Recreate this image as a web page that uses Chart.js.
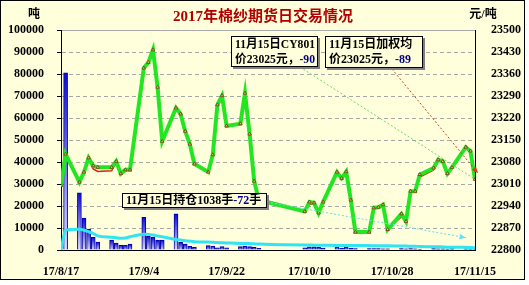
<!DOCTYPE html>
<html>
<head>
<meta charset="utf-8">
<script src="https://cdn.jsdelivr.net/npm/chart.js@4.4.1/dist/chart.umd.min.js"></script>
<style>
  html, body { margin: 0; padding: 0; background: #fff; }
  canvas { display: block; }
</style>
</head>
<body>
<canvas id="chart" width="529" height="285"></canvas>
<script>
// 交易日期 (17/8/17 为挂牌基准日)
const dates = [
  '2017-08-17','2017-08-18','2017-08-21','2017-08-22','2017-08-23','2017-08-24','2017-08-25',
  '2017-08-28','2017-08-29','2017-08-30','2017-08-31','2017-09-01',
  '2017-09-04','2017-09-05','2017-09-06','2017-09-07','2017-09-08',
  '2017-09-11','2017-09-12','2017-09-13','2017-09-14','2017-09-15',
  '2017-09-18','2017-09-19','2017-09-20','2017-09-21','2017-09-22',
  '2017-09-25','2017-09-26','2017-09-27','2017-09-28','2017-09-29',
  '2017-10-09','2017-10-10','2017-10-11','2017-10-12','2017-10-13',
  '2017-10-16','2017-10-17','2017-10-18','2017-10-19','2017-10-20',
  '2017-10-23','2017-10-24','2017-10-25','2017-10-26','2017-10-27',
  '2017-10-30','2017-10-31','2017-11-01','2017-11-02','2017-11-03',
  '2017-11-06','2017-11-07','2017-11-08','2017-11-09','2017-11-10',
  '2017-11-13','2017-11-14','2017-11-15'
];
// 成交量 (吨)
const volume = [
  0, 80500, 26000, 14500, 9500, 5800, 3600,
  4500, 3200, 2100, 2100, 2700,
  14900, 6200, 5800, 4500, 4500,
  16400, 3500, 2700, 1700, 1200,
  2000, 1800, 1000, 1500, 1000,
  1500, 1800, 1500, 1200, 800,
  1000, 1400, 1400, 1200, 900,
  1400, 800, 1300, 800, 700,
  600, 700, 600, 500, 500,
  600, 500, 600, 500, 400,
  600, 500, 500, 400, 600,
  500, 500, 600
];
// 持仓量 (手)
const openInt = [
  0, 9100, 9400, 9000, 8300, 7500, 6400,
  5800, 5600, 5300, 5500, 6000,
  7200, 7100, 6800, 6400, 6000,
  4800, 4500, 4200, 4000, 3800,
  3600, 3500, 3400, 3300, 3200,
  3000, 3000, 2900, 2800, 2700,
  2300, 2300, 2200, 2200, 2200,
  2100, 2100, 2100, 2000, 2000,
  2000, 1900, 1900, 1900, 1900,
  1800, 1800, 1700, 1700, 1600,
  1500, 1500, 1400, 1300, 1300,
  1200, 1110, 1038
];
// CY801 收盘价 (元/吨)
const cy801 = [
  23005, 23105, 23016, 23048, 23093, 23068, 23063,
  23063, 23082, 23043, 23055, 23055,
  23379, 23397, 23437, 23318, 23146,
  23252, 23233, 23178, 23137, 23074,
  23048, 23103, 23262, 23291, 23195,
  23202, 23299, 23169, 23019, 22959,
  22923, 22953, 22950, 22918, 22953,
  23048, 23028, 23049, 22959, 22857,
  22857, 22934, 22936, 22944, 22865,
  22915, 22891, 22987, 22987, 23040,
  23061, 23087, 23082, 23043, 23063,
  23127, 23115, 23025
];
// 加权均价 (元/吨)
const wavg = [
  23005, 23105, 23016, 23045, 23090, 23058, 23050,
  23052, 23078, 23040, 23052, 23055,
  23375, 23393, 23430, 23320, 23150,
  23248, 23235, 23180, 23140, 23078,
  23050, 23100, 23255, 23285, 23198,
  23200, 23295, 23172, 23022, 22962,
  22925, 22945, 22948, 22920, 22950,
  23045, 23030, 23048, 22962, 22860,
  22858, 22930, 22938, 22942, 22868,
  22905, 22895, 22985, 22988, 23032,
  23055, 23085, 23083, 23045, 23062,
  23125, 23114, 23025
];

const startDay = Date.parse(dates[0]);
const dayOf = d => Math.round((Date.parse(d) - startDay) / 86400000);
const days = dates.map(dayOf);
const pts = arr => arr.map((v, i) => ({ x: days[i], y: v }));
const n = dates.length;

const FONT = '"Liberation Serif", "Noto Sans CJK SC", serif';
Chart.defaults.font.family = FONT;
Chart.defaults.font.weight = 'bold';
Chart.defaults.font.size = 12;
Chart.defaults.color = '#000';

function fmtDay(v) {
  const d = new Date(startDay + v * 86400000);
  return '17/' + (d.getUTCMonth() + 1) + '/' + d.getUTCDate();
}

function barFill(c) {
  const chart = c.chart;
  if (!chart.chartArea || c.type !== 'data') return '#3030E0';
  const ys = chart.scales.y;
  const top = ys.getPixelForValue(c.parsed.y);
  const bottom = ys.getPixelForValue(0);
  const g = chart.ctx.createLinearGradient(0, top, 0, bottom + 1);
  g.addColorStop(0, '#0A0AD8');
  g.addColorStop(1, '#E0E0FF');
  return g;
}

function drawLeader(c, x1, y1, x2, y2, color, arrow) {
  c.save();
  c.strokeStyle = color;
  c.fillStyle = color;
  c.lineWidth = 1;
  c.setLineDash([2, 2]);
  c.beginPath();
  c.moveTo(x1, y1);
  c.lineTo(x2, y2);
  c.stroke();
  if (arrow) {
    const a = Math.atan2(y2 - y1, x2 - x1);
    c.setLineDash([]);
    c.beginPath();
    c.moveTo(x2, y2);
    c.lineTo(x2 - 7 * Math.cos(a - 0.4), y2 - 7 * Math.sin(a - 0.4));
    c.lineTo(x2 - 7 * Math.cos(a + 0.4), y2 - 7 * Math.sin(a + 0.4));
    c.closePath();
    c.fill();
  }
  c.restore();
}

function drawBox(c, x, y, w, h, lines) {
  c.save();
  c.fillStyle = '#808080';
  c.fillRect(x + 2, y + 2, w, h);
  c.fillStyle = '#FFFFDC';
  c.fillRect(x, y, w, h);
  c.strokeStyle = '#000';
  c.lineWidth = 1;
  c.strokeRect(x + 0.5, y + 0.5, w - 1, h - 1);
  c.font = 'bold 12px ' + FONT;
  c.textBaseline = 'middle';
  c.textAlign = 'left';
  lines.forEach((segs, i) => {
    const ty = y + (lines.length > 1 ? 8.5 + i * 15 : h / 2 + 0.5);
    const total = segs.reduce((s, [t]) => s + c.measureText(t).width, 0);
    const avail = w - 7;
    const k = total > avail ? avail / total : 1;
    c.save();
    c.translate(x + 4, ty);
    c.scale(k, 1);
    let tx = 0;
    segs.forEach(([t, col]) => {
      c.fillStyle = col;
      c.fillText(t, tx, 0);
      tx += c.measureText(t).width;
    });
    c.restore();
  });
  c.restore();
}

const last = dates[n - 1];
const md = (new Date(last).getUTCMonth() + 1) + '月' + new Date(last).getUTCDate() + '日';
const dCy = cy801[n - 1] - cy801[n - 2];
const dW = wavg[n - 1] - wavg[n - 2];
const dOi = openInt[n - 1] - openInt[n - 2];

const deco = {
  id: 'deco',
  beforeDraw(chart) {
    const c = chart.ctx;
    c.save();
    c.fillStyle = '#fff';
    c.fillRect(0, 0, chart.width, chart.height);
    c.fillStyle = '#FFFFDC';
    c.fillRect(0, 0, 525, 280);
    c.strokeStyle = '#000';
    c.lineWidth = 1;
    c.strokeRect(0.5, 0.5, 524, 279);
    c.fillStyle = '#B00000';
    c.font = 'bold 15px ' + FONT;
    c.textAlign = 'center';
    c.textBaseline = 'middle';
    c.fillText('2017年棉纱期货日交易情况', 263, 17);
    c.fillStyle = '#000';
    c.font = 'bold 12px ' + FONT;
    c.fillText('吨', 34, 15);
    c.fillText('元/吨', 483, 15);
    c.restore();
  },
  afterDatasetsDraw(chart) {
    const c = chart.ctx;
    const { x, y, y1 } = chart.scales;
    const lx = x.getPixelForValue(days[n - 1]);
    drawLeader(c, 300, 67, lx, y1.getPixelForValue(cy801[n - 1]), '#66DD66', false);
    drawLeader(c, 392, 69, lx + 3, y1.getPixelForValue(wavg[n - 1]) - 6, '#D04020', true);
    drawLeader(c, 267, 202, lx - 9, y.getPixelForValue(openInt[n - 1]) - 10, '#66E0F0', true);
    drawBox(c, 231, 36, 87, 31, [
      [[md + 'CY801', '#000']],
      [['价' + cy801[n - 1] + '元，', '#000'], [String(dCy), '#000080']]
    ]);
    drawBox(c, 325, 36, 98, 32, [
      [[md + '加权均', '#000']],
      [['价' + wavg[n - 1] + '元，', '#000'], [String(dW), '#000080']]
    ]);
    drawBox(c, 122, 193, 145, 15, [
      [[md + '持仓' + openInt[n - 1] + '手', '#000'], [String(dOi), '#000080'], ['手', '#000']]
    ]);
  }
};

new Chart(document.getElementById('chart'), {
  type: 'bar',
  data: {
    datasets: [
      {
        type: 'line',
        label: 'CY801',
        data: pts(cy801),
        yAxisID: 'y1',
        borderColor: '#22E622',
        borderWidth: 4,
        pointStyle: 'triangle',
        pointRadius: 2,
        pointBackgroundColor: '#E8E040',
        pointBorderColor: '#705020',
        pointBorderWidth: 1,
        tension: 0,
        order: 1
      },
      {
        type: 'line',
        label: '加权均',
        data: pts(wavg),
        yAxisID: 'y1',
        borderColor: '#E02000',
        borderWidth: 1.5,
        pointRadius: 0,
        tension: 0,
        order: 2
      },
      {
        type: 'line',
        label: '持仓',
        data: pts(openInt),
        yAxisID: 'y',
        borderColor: '#30E4F4',
        borderWidth: 3,
        pointRadius: 0,
        tension: 0.4,
        cubicInterpolationMode: 'monotone',
        order: 3
      },
      {
        type: 'bar',
        label: '成交量',
        data: pts(volume),
        yAxisID: 'y',
        backgroundColor: barFill,
        borderColor: '#0000A8',
        borderWidth: 1,
        barThickness: 4,
        order: 4
      }
    ]
  },
  options: {
    responsive: false,
    animation: false,
    layout: { padding: { top: 30, left: 0, right: 0, bottom: 0 } },
    plugins: { legend: { display: false }, tooltip: { enabled: false } },
    scales: {
      x: {
        type: 'linear',
        min: 0,
        max: 90,
        offset: false,
        grid: { display: false },
        border: { display: true, color: '#000', width: 1 },
        ticks: { stepSize: 18, padding: 7, maxRotation: 0, autoSkip: false, callback: v => fmtDay(v) },
        afterFit: s => { s.height = 35; }
      },
      y: {
        position: 'left',
        min: 0,
        max: 100000,
        grid: { color: '#A8A8A8', tickLength: 4, tickColor: '#000' },
        border: { display: true, color: '#000', width: 1, dash: c => (c.tick && c.tick.value === 100000 ? [] : [4, 3]) },
        ticks: { stepSize: 10000, padding: 13, callback: v => String(v) },
        afterFit: s => { s.width = 61; }
      },
      y1: {
        position: 'right',
        min: 22800,
        max: 23500,
        grid: { display: false },
        border: { display: true, color: '#000', width: 1 },
        ticks: { stepSize: 70, padding: 8, callback: v => String(v) },
        afterFit: s => { s.width = 54; }
      }
    }
  },
  plugins: [deco]
});
</script>
</body>
</html>
